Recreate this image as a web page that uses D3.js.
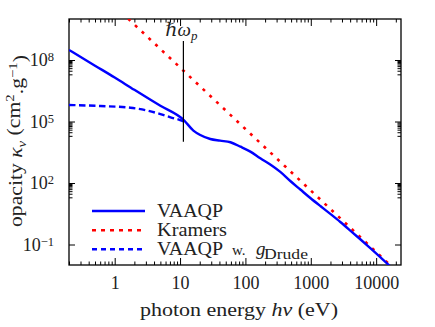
<!DOCTYPE html>
<html>
<head>
<meta charset="utf-8">
<script src="https://cdn.jsdelivr.net/npm/d3@7"></script>
<style>
  body { margin: 0; background: #fff; }
  text, tspan { font-family: "Liberation Serif", "DejaVu Serif", serif; fill: #222; }
</style>
</head>
<body>
<svg id="chart" width="435" height="327"></svg>
<script>
// VAAQP opacity (solid)
var energySolid  = [0.2, 0.5, 1, 2, 5, 11.4, 16, 20.4, 29, 41, 59, 84, 119, 169, 240, 342, 486, 692, 985, 1400, 1990, 2830, 4020, 5720, 8130, 11560, 15200, 20000];
var opacitySolid = [3.1e8, 5.3e7, 1.4e7, 3.5e6, 5.9e5, 1.18e5, 3.6e4, 2.2e4, 1.4e4, 1.16e4, 9.7e3, 5.9e3, 3.4e3, 1.6e3, 800, 348, 125, 48, 18.5, 7.5, 3.1, 1.25, 0.48, 0.18, 0.066, 0.024, 0.0108, 0.0047];

// VAAQP with Drude gaunt factor (dashed, low energy)
var energyDrude  = [0.2, 0.6, 1.74, 2.95, 5.0, 7.15, 10, 12];
var opacityDrude = [6.4e5, 5.7e5, 4.7e5, 3.6e5, 2.3e5, 1.6e5, 1.18e5, 9.5e4];

// Kramers (dotted)
var energyKramers  = [1, 10, 100, 1000, 10000, 30000];
var opacityKramers = [4.3e10, 4.3e7, 4.3e4, 43, 0.043, 0.0016];

// plasma frequency marker
var plasmaEnergy = 11.25;
var plasmaSpan = [1.04e4, 8.5e8];

var xMajor = [1, 10, 100, 1000, 10000];
var xMajorLabels = ["1", "10", "100", "1000", "10000"];
var yMajor = [1e-1, 1e2, 1e5, 1e8];
var yMajorExp = ["\u22121", "2", "5", "8"];

var W = 435, H = 327;
var margin = {top: 19, right: 34, bottom: 62, left: 69};
var FONT = "Liberation Serif";

var svg = d3.select("#chart");

var x = d3.scaleLog().domain([0.2, 24000]).range([margin.left, W - margin.right]);
var y = d3.scaleLog().domain([1e-2, 1e10]).range([H - margin.bottom, margin.top]);

// minor ticks
var xMinor = [];
for (var e = -1; e <= 4; e++) {
    for (var k = 2; k <= 9; k++) {
        var v = k * Math.pow(10, e);
        if (v >= 0.2 && v <= 24000) xMinor.push(v);
    }
}
var yMinor = [];
[1e2, 1e5, 1e8].forEach(function(m){
    for (var k = 2; k <= 9; k++) yMinor.push(k * m / 10);
});

var bottomY = H - margin.bottom, topY = margin.top;
var leftX = margin.left, rightX = W - margin.right;

svg.append("clipPath").attr("id", "plotclip")
    .append("rect")
    .attr("x", leftX).attr("y", topY)
    .attr("width", rightX - leftX).attr("height", bottomY - topY);

function styleAxis(g) {
    g.attr("font-family", FONT);
    g.select(".domain").remove();
    g.selectAll("line").attr("stroke", "#000").attr("stroke-width", 1);
}

// bottom axis
svg.append("g").attr("transform", "translate(0," + bottomY + ")")
    .call(d3.axisBottom(x).tickValues(xMajor).tickSize(-7).tickPadding(11)
        .tickFormat(function(d, i){ return xMajorLabels[i]; }))
    .call(styleAxis)
    .selectAll("text").attr("font-size", "18px").attr("fill", "#222");
svg.append("g").attr("transform", "translate(0," + bottomY + ")")
    .call(d3.axisBottom(x).tickValues(xMinor).tickSize(-3.5).tickFormat(""))
    .call(styleAxis);
// top axis
svg.append("g").attr("transform", "translate(0," + topY + ")")
    .call(d3.axisTop(x).tickValues(xMajor).tickSize(-7).tickFormat(""))
    .call(styleAxis);
svg.append("g").attr("transform", "translate(0," + topY + ")")
    .call(d3.axisTop(x).tickValues(xMinor).tickSize(-3.5).tickFormat(""))
    .call(styleAxis);

// left axis
var yl = svg.append("g").attr("transform", "translate(" + leftX + ",0)")
    .call(d3.axisLeft(y).tickValues(yMajor).tickSize(-6).tickPadding(15).tickFormat(""))
    .call(styleAxis);
yl.selectAll(".tick text").each(function(d, i){
    var t = d3.select(this).attr("font-size", "18px").attr("fill", "#222");
    t.append("tspan").text("10");
    t.append("tspan").attr("dy", "-0.42em").attr("font-size", "12.5px").text(yMajorExp[i]);
});
svg.append("g").attr("transform", "translate(" + leftX + ",0)")
    .call(d3.axisLeft(y).tickValues(yMinor).tickSize(-3.5).tickFormat(""))
    .call(styleAxis);
// right axis
svg.append("g").attr("transform", "translate(" + rightX + ",0)")
    .call(d3.axisRight(y).tickValues(yMajor).tickSize(-6).tickFormat(""))
    .call(styleAxis);
svg.append("g").attr("transform", "translate(" + rightX + ",0)")
    .call(d3.axisRight(y).tickValues(yMinor).tickSize(-3.5).tickFormat(""))
    .call(styleAxis);

// frame
svg.append("rect")
    .attr("x", leftX).attr("y", topY)
    .attr("width", rightX - leftX).attr("height", bottomY - topY)
    .attr("fill", "none").attr("stroke", "#000").attr("stroke-width", 1.3);

var line = d3.line()
    .x(function(d){ return x(d[0]); })
    .y(function(d){ return y(d[1]); })
    .curve(d3.curveMonotoneX);

var plot = svg.append("g").attr("clip-path", "url(#plotclip)");

plot.append("path")
    .datum(d3.zip(energyKramers, opacityKramers))
    .attr("d", line)
    .attr("fill", "none").attr("stroke", "#ff0000")
    .attr("stroke-width", 2.6).attr("stroke-dasharray", "3,6.3");

plot.append("path")
    .datum(d3.zip(energyDrude, opacityDrude))
    .attr("d", line)
    .attr("fill", "none").attr("stroke", "#0000ff")
    .attr("stroke-width", 2.4).attr("stroke-dasharray", "6.5,3.5");

plot.append("path")
    .datum(d3.zip(energySolid, opacitySolid))
    .attr("d", line)
    .attr("fill", "none").attr("stroke", "#0000ff")
    .attr("stroke-width", 2.4);

// plasma line
svg.append("line")
    .attr("x1", x(plasmaEnergy)).attr("x2", x(plasmaEnergy))
    .attr("y1", y(plasmaSpan[0])).attr("y2", y(plasmaSpan[1]))
    .attr("stroke", "#000").attr("stroke-width", 1.2);

var hw = svg.append("text")
    .attr("x", x(plasmaEnergy) - 2).attr("y", 36)
    .attr("text-anchor", "middle").attr("font-size", "19px").attr("font-style", "italic");
hw.append("tspan").text("\u210F\u03C9");
hw.append("tspan").attr("dy", "0.3em").attr("font-size", "13px").text("p");

// axis titles
var xt = svg.append("text")
    .attr("x", 140).attr("y", 316)
    .attr("font-size", "19px")
    .attr("textLength", 198).attr("lengthAdjust", "spacingAndGlyphs");
xt.append("tspan").text("photon energy ");
xt.append("tspan").attr("font-style", "italic").text("h\u03BD");
xt.append("tspan").text(" (eV)");

var ytl = svg.append("text")
    .attr("transform", "translate(22,227) rotate(-90)")
    .attr("font-size", "19px")
    .attr("textLength", 172).attr("lengthAdjust", "spacingAndGlyphs");
ytl.append("tspan").text("opacity ");
ytl.append("tspan").attr("font-style", "italic").text("\u03BA");
ytl.append("tspan").attr("font-style", "italic").attr("font-size", "13px").attr("dy", "0.3em").text("\u03BD");
ytl.append("tspan").attr("dy", "-0.3em").text(" (cm");
ytl.append("tspan").attr("font-size", "13px").attr("dy", "-0.45em").text("2");
ytl.append("tspan").attr("dy", "0.45em").text(".g");
ytl.append("tspan").attr("font-size", "13px").attr("dy", "-0.45em").text("\u22121");
ytl.append("tspan").attr("dy", "0.45em").text(")");

// legend
var legendLabels = ["VAAQP", "Kramers", "VAAQP"];
var legendColors = ["#0000ff", "#ff0000", "#0000ff"];
var legendDash = [null, "4,5", "5,4"];
var legendY = [211, 230.3, 249.3];
var legendWidth = [66, 70, 66];

legendLabels.forEach(function(lab, i){
    svg.append("line")
        .attr("x1", 92).attr("x2", 145)
        .attr("y1", legendY[i]).attr("y2", legendY[i])
        .attr("stroke", legendColors[i]).attr("stroke-width", 2.4)
        .attr("stroke-dasharray", legendDash[i]);
    svg.append("text")
        .attr("x", 157).attr("y", legendY[i] + 6)
        .attr("font-size", "19px")
        .attr("textLength", legendWidth[i]).attr("lengthAdjust", "spacingAndGlyphs")
        .text(lab);
});
var ly = legendY[2] + 6;
svg.append("text").attr("x", 232).attr("y", ly).attr("font-size", "15px").text("w.");
svg.append("text").attr("x", 256).attr("y", ly).attr("font-size", "19px").attr("font-style", "italic").text("g");
svg.append("text").attr("x", 264).attr("y", ly + 4).attr("font-size", "15px")
    .attr("textLength", 44).attr("lengthAdjust", "spacingAndGlyphs").text("Drude");
</script>
</body>
</html>
